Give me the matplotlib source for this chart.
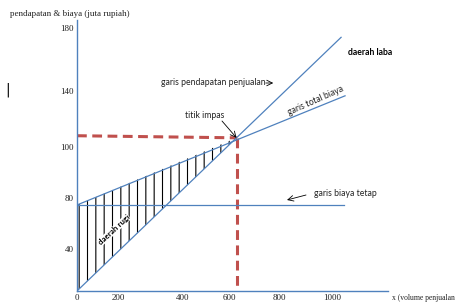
import numpy as np
import matplotlib
matplotlib.use("Agg")
import matplotlib.pyplot as plt

# ---- data ----
volume_ticks = [0, 200, 400, 600, 800, 1000]
value_ticks = [40, 80, 100, 140, 180]
fixed_cost = 74.5
break_even_volume = 630
break_even_value = 106.5
revenue_end = (1034, 174)
total_cost_end = (1049, 136.5)
fixed_cost_end_volume = 1045
dash_left_value = 108

# ---- hand-drawn (non-uniform) axis scales of the original sketch ----
x_breaks_val = [0, 200, 400, 600, 800, 1000]
x_breaks_pos = [0, 41, 106, 152, 202, 255]
y_breaks_val = [0, 40, 80, 100, 140, 180]
y_breaks_pos = [0, 42, 93, 144, 200, 263]


def piecewise(src, dst):
    src = np.asarray(src, float)
    dst = np.asarray(dst, float)

    def f(v):
        v = np.asarray(v, float)
        out = np.interp(v, src, dst)
        lo = v < src[0]
        hi = v > src[-1]
        s_lo = (dst[1] - dst[0]) / (src[1] - src[0])
        s_hi = (dst[-1] - dst[-2]) / (src[-1] - src[-2])
        out = np.where(lo, dst[0] + (v - src[0]) * s_lo, out)
        out = np.where(hi, dst[-1] + (v - src[-1]) * s_hi, out)
        return out
    return f


W, H = 456, 306
fig = plt.figure(figsize=(W / 100, H / 100), dpi=100)
fig.patch.set_facecolor("white")


def fx(x):
    return x / W


def fy(y):
    return 1 - y / H


ax = fig.add_axes([fx(77), fy(291), fx(388) - fx(77), fy(20) - fy(291)])
ax.set_xscale("function", functions=(piecewise(x_breaks_val, x_breaks_pos),
                                     piecewise(x_breaks_pos, x_breaks_val)))
ax.set_yscale("function", functions=(piecewise(y_breaks_val, y_breaks_pos),
                                     piecewise(y_breaks_pos, y_breaks_val)))
ax.set_xlim(0, 1211)
ax.set_ylim(0, 185)

blue = "#4F81BD"
red = "#C0504D"

for s in ["top", "right"]:
    ax.spines[s].set_visible(False)
for s in ["left", "bottom"]:
    ax.spines[s].set_color(blue)
    ax.spines[s].set_linewidth(1.0)

ax.set_xticks(volume_ticks)
ax.set_xticklabels([str(v) for v in volume_ticks])
ax.set_yticks(value_ticks)
ax.set_yticklabels([str(v) for v in value_ticks])
ax.tick_params(length=0, labelsize=6.5, pad=2.5)
for lab in ax.get_xticklabels() + ax.get_yticklabels():
    lab.set_fontfamily("Liberation Serif")
    lab.set_color("#222222")

# loss region hatch
plt.rcParams["hatch.linewidth"] = 0.8
ax.fill([0, break_even_volume, 0], [0, break_even_value, fixed_cost],
        facecolor="none", edgecolor="black", linewidth=0, hatch="||", zorder=1)

# lines
ax.plot([0, revenue_end[0]], [0, revenue_end[1]], color=blue, lw=0.9, zorder=3)
ax.plot([0, total_cost_end[0]], [fixed_cost, total_cost_end[1]], color=blue, lw=0.9, zorder=3)
ax.plot([0, fixed_cost_end_volume], [fixed_cost, fixed_cost], color=blue, lw=0.9, zorder=3)

# break-even dashed guides
ax.plot([0, break_even_volume], [dash_left_value, break_even_value], color=red,
        lw=2.2, linestyle=(0, (3.2, 1.8)), zorder=2)
ax.plot([break_even_volume, break_even_volume], [break_even_value, 3], color=red,
        lw=2.2, linestyle=(0, (3.2, 1.8)), zorder=2)

# texts
serif = "Liberation Serif"
sans = "Lato"
fig.text(fx(10), fy(14), "pendapatan & biaya (juta rupiah)", fontsize=6.5,
         family=serif, ha="left", va="center", color="#222222")
fig.text(fx(392), fy(298), "x (volume penjualan", fontsize=5.5,
         family=serif, ha="left", va="center", color="#222222")
fig.text(fx(8), fy(90), "|", fontsize=10, family="DejaVu Sans", ha="center",
         va="center", color="black")

fig.text(fx(348), fy(52), "daerah laba", fontsize=6.2, family=sans,
         fontweight="bold", ha="left", va="center")
fig.text(fx(161), fy(83), "garis pendapatan penjualan", fontsize=6.2,
         family=sans, ha="left", va="center", color="#222222")
ax.annotate("", xy=(fx(276), fy(83)), xycoords="figure fraction",
            xytext=(fx(263), fy(83)), textcoords="figure fraction",
            arrowprops=dict(arrowstyle="->", lw=0.6, color="black"))

fig.text(fx(316), fy(101), "garis total biaya", fontsize=6.2, family=sans,
         ha="center", va="center", rotation=24, color="#222222")

fig.text(fx(185), fy(116), "titik impas", fontsize=6.2, family=sans,
         ha="left", va="center", color="#222222")
ax.annotate("", xy=(break_even_volume, break_even_value), xycoords="data",
            xytext=(fx(222), fy(121)), textcoords="figure fraction",
            arrowprops=dict(arrowstyle="->", lw=0.6, color="black",
                            shrinkA=0, shrinkB=0))

fig.text(fx(314), fy(193), "garis biaya tetap", fontsize=6.2, family=sans,
         ha="left", va="center", color="#222222")
ax.annotate("", xy=(fx(287), fy(200)), xycoords="figure fraction",
            xytext=(fx(306), fy(195)), textcoords="figure fraction",
            arrowprops=dict(arrowstyle="->", lw=0.6, color="black",
                            shrinkA=0, shrinkB=0))

fig.text(fx(114), fy(230), "daerah rugi", fontsize=5.8, family=sans,
         fontweight="bold", ha="center", va="center", rotation=43,
         bbox=dict(facecolor="white", edgecolor="none", pad=0.2), zorder=5)

fig.savefig("out.png", dpi=100)
